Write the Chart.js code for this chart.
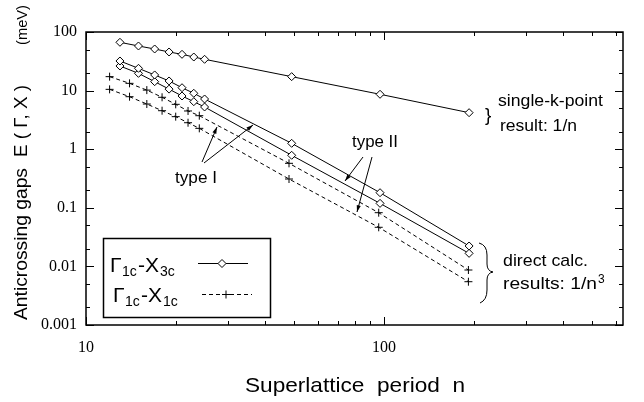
<!DOCTYPE html>
<html>
<head>
<meta charset="utf-8">
<script src="https://cdn.jsdelivr.net/npm/chart.js@4.4.0/dist/chart.umd.min.js"></script>
<style>
  html, body { margin: 0; padding: 0; background: #fff; }
</style>
</head>
<body>
<canvas id="chart" width="644" height="402"></canvas>
<script>
// superlattice periods (diamonds on odd n, crosses on even n)
const nOdd = [13, 15, 17, 19, 21, 23, 25, 49, 97, 193];
const nEven = [12, 14, 16, 18, 20, 22, 24, 48, 96, 192];

// gaps in meV
const singleK = [66.7, 57.7, 51.3, 45.6, 41.6, 37.4, 34.2, 17.3, 8.65, 4.2];
const x3cUpper = [32.0, 24.0, 18.5, 14.6, 11.2, 9.0, 7.19, 1.26, 0.181, 0.0223];
const x3cLower = [26.3, 19.7, 14.2, 10.6, 8.09, 6.47, 5.25, 0.787, 0.119, 0.0167];
const x1cUpper = [17.3, 13.3, 10.2, 7.69, 5.83, 4.49, 3.73, 0.574, 0.0825, 0.00868];
const x1cLower = [10.5, 7.87, 5.90, 4.54, 3.59, 2.83, 2.27, 0.310, 0.0465, 0.00548];

// axes
const xTicks = [10, 20, 30, 40, 50, 60, 70, 80, 90, 100, 200, 300, 400, 500, 600];
const xLabels = [10, 100];
const yTicks = [0.001, 0.002, 0.005, 0.01, 0.02, 0.05, 0.1, 0.2, 0.5, 1, 2, 5, 10, 20, 50, 100];
const yLabels = [0.001, 0.01, 0.1, 1, 10, 100];

const SANS = "'Liberation Sans', Arial, sans-serif";
const SERIF = "'Liberation Serif', 'Times New Roman', serif";

function series(label, xs, ys, style, dashed) {
  return {
    label: label,
    data: xs.map((n, i) => ({ x: n, y: ys[i] })),
    showLine: true,
    borderColor: '#000',
    borderWidth: 1,
    borderDash: dashed ? [4, 3] : [],
    pointStyle: style,
    pointRadius: 4,
    pointBorderWidth: 1,
    pointBackgroundColor: '#fff',
    pointBorderColor: '#000',
    tension: 0
  };
}

function arrow(ctx, x1, y1, x2, y2) {
  const ang = Math.atan2(y2 - y1, x2 - x1);
  ctx.beginPath();
  ctx.moveTo(x1, y1);
  ctx.lineTo(x2, y2);
  ctx.stroke();
  ctx.beginPath();
  ctx.moveTo(x2, y2);
  ctx.lineTo(x2 - 7 * Math.cos(ang - 0.3), y2 - 7 * Math.sin(ang - 0.3));
  ctx.lineTo(x2 - 7 * Math.cos(ang + 0.3), y2 - 7 * Math.sin(ang + 0.3));
  ctx.closePath();
  ctx.fill();
}

// draw text stretched to a given width (the scan's Helvetica runs wide)
function fitText(ctx, text, x, y, width, size) {
  ctx.font = size + 'px ' + SANS;
  const w = ctx.measureText(text).width;
  ctx.save();
  ctx.translate(x, y);
  ctx.scale(width / w, 1);
  ctx.fillText(text, 0, 0);
  ctx.restore();
}

// text pieces: [text, x, size, dy]
function pieces(ctx, baseline, list) {
  list.forEach(p => {
    ctx.font = p[2] + 'px ' + SANS;
    ctx.fillText(p[0], p[1], baseline + (p[3] || 0));
  });
}

const frameTicks = {
  id: 'frameTicks',
  afterDatasetsDraw(chart) {
    const { ctx, chartArea: a, scales: { x, y } } = chart;
    ctx.save();
    ctx.strokeStyle = '#000';
    ctx.lineWidth = 1;
    ctx.beginPath();
    xTicks.forEach(v => {
      const px = Math.round(x.getPixelForValue(v)) + 0.5;
      const len = xLabels.includes(v) ? 8 : 4;
      ctx.moveTo(px, a.bottom); ctx.lineTo(px, a.bottom - len);
      ctx.moveTo(px, a.top); ctx.lineTo(px, a.top + len);
    });
    yTicks.forEach(v => {
      const py = Math.round(y.getPixelForValue(v)) + 0.5;
      const len = yLabels.includes(v) ? 8 : 4;
      ctx.moveTo(a.left, py); ctx.lineTo(a.left + len, py);
      ctx.moveTo(a.right, py); ctx.lineTo(a.right - len, py);
    });
    ctx.stroke();
    ctx.lineWidth = 1.5;
    ctx.strokeRect(a.left, a.top, a.right - a.left, a.bottom - a.top);
    ctx.restore();
  },
  afterDraw(chart) {
    const ctx = chart.ctx;
    ctx.save();
    ctx.fillStyle = '#000';
    ctx.strokeStyle = '#000';
    ctx.lineWidth = 1;
    ctx.textBaseline = 'alphabetic';
    ctx.textAlign = 'left';

    // axis titles
    fitText(ctx, 'Superlattice  period  n', 245, 392, 220, 21);

    ctx.save();
    ctx.translate(27, 0);
    ctx.rotate(-Math.PI / 2);
    fitText(ctx, 'Anticrossing gaps', -320, 0, 152, 19);
    fitText(ctx, 'E ( \u0393, X )', -157, 0, 72, 19);
    fitText(ctx, '(meV)', -45, 0, 40, 15);
    ctx.restore();

    // annotations
    fitText(ctx, 'type I', 175, 183, 42, 17);
    fitText(ctx, 'type II', 352, 147, 46, 17);
    fitText(ctx, 'single-k-point', 498, 106, 105, 17);
    fitText(ctx, 'result: 1/n', 500, 131, 77, 17);
    fitText(ctx, 'direct calc.', 503, 266, 85, 17);
    fitText(ctx, 'results: 1/n', 503, 289, 94, 17);
    ctx.font = '12px ' + SANS;
    ctx.fillText('3', 598, 283);
    ctx.font = '19px ' + SANS;
    ctx.fillText('}', 485, 121);

    // big brace
    ctx.beginPath();
    ctx.moveTo(479, 243);
    ctx.quadraticCurveTo(487, 245, 487, 255);
    ctx.lineTo(487, 264);
    ctx.quadraticCurveTo(487, 271, 493, 272);
    ctx.quadraticCurveTo(487, 273, 487, 280);
    ctx.lineTo(487, 290);
    ctx.quadraticCurveTo(487, 300, 480, 303);
    ctx.stroke();

    // arrows
    arrow(ctx, 202, 162, 217, 127);
    arrow(ctx, 204, 163, 253, 125);
    arrow(ctx, 363, 157, 345, 181);
    arrow(ctx, 372, 157, 357, 212);

    // legend box
    ctx.fillStyle = '#fff';
    ctx.fillRect(103, 238, 168, 79);
    ctx.lineWidth = 1.5;
    ctx.strokeRect(103.5, 238.5, 167, 79);
    ctx.fillStyle = '#000';
    ctx.lineWidth = 1;
    pieces(ctx, 272, [['\u0393', 110, 21], ['1c', 122, 14, 4], ['-', 138, 21], ['X', 145, 21], ['3c', 160, 14, 4]]);
    pieces(ctx, 302, [['\u0393', 113, 21], ['1c', 125, 14, 4], ['-', 141, 21], ['X', 148, 21], ['1c', 163, 14, 4]]);
    ctx.beginPath();
    ctx.moveTo(198, 263.5); ctx.lineTo(248, 263.5);
    ctx.stroke();
    ctx.beginPath();
    ctx.moveTo(222, 259.5); ctx.lineTo(226, 263.5); ctx.lineTo(222, 267.5); ctx.lineTo(218, 263.5);
    ctx.closePath();
    ctx.fillStyle = '#fff';
    ctx.fill();
    ctx.stroke();
    ctx.setLineDash([4, 3]);
    ctx.beginPath();
    ctx.moveTo(202, 294.5); ctx.lineTo(252, 294.5);
    ctx.stroke();
    ctx.setLineDash([]);
    ctx.beginPath();
    ctx.moveTo(222, 294.5); ctx.lineTo(230, 294.5);
    ctx.moveTo(226, 290.5); ctx.lineTo(226, 298.5);
    ctx.stroke();
    ctx.restore();
  }
};

new Chart(document.getElementById('chart'), {
  type: 'scatter',
  data: {
    datasets: [
      series('single-k-point', nOdd, singleK, 'rectRot', false),
      series('G1c-X3c upper', nOdd, x3cUpper, 'rectRot', false),
      series('G1c-X3c lower', nOdd, x3cLower, 'rectRot', false),
      series('G1c-X1c upper', nEven, x1cUpper, 'cross', true),
      series('G1c-X1c lower', nEven, x1cLower, 'cross', true)
    ]
  },
  options: {
    responsive: false,
    devicePixelRatio: 1,
    animation: false,
    layout: { padding: { left: 0, top: 32, right: 21, bottom: 0 } },
    plugins: { legend: { display: false }, tooltip: { enabled: false } },
    scales: {
      x: {
        type: 'logarithmic',
        min: 10,
        max: 634,
        afterBuildTicks: s => { s.ticks = xTicks.map(v => ({ value: v })); },
        afterFit: s => { s.height = 77; },
        grid: { display: false, drawTicks: false },
        border: { display: false },
        ticks: {
          autoSkip: false,
          maxRotation: 0,
          padding: 13,
          color: '#000',
          font: { family: SERIF, size: 16 },
          callback: v => xLabels.includes(v) ? String(v) : ''
        }
      },
      y: {
        type: 'logarithmic',
        min: 0.001,
        max: 100,
        afterBuildTicks: s => { s.ticks = yTicks.map(v => ({ value: v })); },
        afterFit: s => { s.width = 86; },
        grid: { display: false, drawTicks: false },
        border: { display: false },
        ticks: {
          autoSkip: false,
          padding: 9,
          color: '#000',
          font: { family: SERIF, size: 16 },
          callback: v => yLabels.includes(v) ? String(v) : ''
        }
      }
    }
  },
  plugins: [frameTicks]
});
</script>
</body>
</html>
